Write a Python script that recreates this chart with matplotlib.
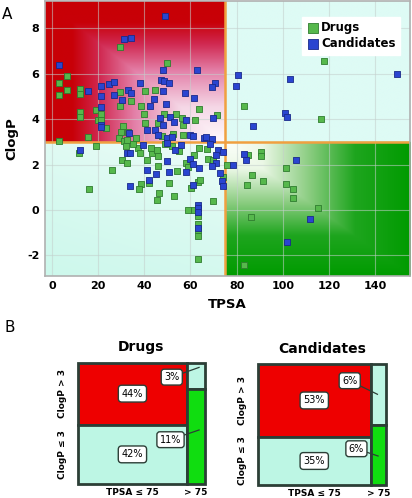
import numpy as np
import matplotlib
matplotlib.use('Agg')
import matplotlib.pyplot as plt
from matplotlib.patches import Rectangle

# ---- data: panel A (TPSA, ClogP) ----
drugs_tpsa = [29.3, 50, 6.4, 3.2, 6.4, 3.2, 12.1, 12.4, 29.5, 40.3, 44.6, 34.2, 29.5, 38.6, 63.7,
              12.1, 12.4, 18.9, 21.2, 20.1, 21.2, 39.9, 48.4, 53.6, 56.3, 62, 40.4, 23.5, 30.8, 56.6,
              30, 33.1, 29, 31.1, 32.6, 15.6, 3.2, 36.4, 47.8, 52.6, 56.6, 71.5, 45.9,
              19.2, 11.8, 30.5, 32.5, 32.1, 37.1, 38, 41.2, 43.2, 46.1, 45.9, 26, 15.9, 38.6, 37.9,
              41.9, 46.4, 45.7, 50.7, 52.7, 54.2, 58.1, 58.8, 58.8, 61.7, 60.1, 61.6, 63.4, 64.3,
              63.3, 63.3, 63.3, 63.3, 63.3, 63.9, 42.9, 45.4, 35.2, 67.6, 69.9, 74.3, 69.8, 49, 52,
              55, 67,
              118, 83.1, 116.7,
              84.7, 90.6, 90.6, 101.4, 86.6, 91.6, 84.4, 101.4, 104.5, 104.5, 115.3, 86.1, 83.1, 76]
drugs_clogp = [7.19, 6.46, 5.9, 5.59, 5.29, 5.07, 5.32, 5.09, 5.21, 5.25, 5.29, 4.82, 4.58, 4.58, 4.46,
               4.3, 4.1, 4.39, 4.24, 3.95, 3.98, 4.23, 4.21, 4.23, 4.05, 3.98, 3.85, 3.63, 3.7, 3.75,
               3.42, 3.45, 3.19, 3.03, 3.1, 3.2, 3.04, 3.16, 3.26, 3.35, 3.31, 4.17, 3.83,
               2.82, 2.53, 2.21, 2.09, 2.81, 2.74, 2.52, 2.18, 2.53, 2.39, 1.92, 1.76, 0.92, 1.16, 0.91,
               1.17, 0.75, 0.43, 1.2, 0.6, 1.73, 2.09, 1.89, 0.02, 0.02, 0.96, 2.4, 1.23, 1.3,
               -0.28, -0.63, -0.86, -1.14, -2.15, 2.74, 2.75, 2.66, 2.91, 2.25, 2.21, 1.46, 0.4, 2.9, 2.8,
               2.6, 2.7,
               6.55, 4.58, 3.99,
               2.4, 2.54, 2.36, 1.83, 1.54, 1.29, 1.1, 1.14, 0.94, 0.51, 0.07, -0.32, -2.4, 1.97]

cand_tpsa = [49, 31.2, 34.1, 3.2, 48.3, 63, 15.7, 21.2, 24.6, 26.9, 38, 47.2, 48.5, 50.8, 48.1,
             32.9, 34.4, 21.2, 26.7, 30.5, 44.3, 57.5, 61.4, 49.3, 42.5, 21.2, 21.1, 21.1, 51.1, 46.8,
             52.8, 58.2, 48.2, 41, 44.8, 33.3, 46.1, 59.7, 65.9, 50, 52, 70.7, 69.5, 69.6, 69.4,
             66.8, 61,
             39.4, 12, 32.5, 33.8, 41.2, 45.2, 49.8, 50.6, 41.9, 33.8, 58.2, 59.8, 61.2, 63.7, 61.2,
             63.3, 63.3, 63.3, 63.3, 53.3, 68.5, 72.1, 71, 74.1, 71, 69.5, 72.8, 73.7, 74.3, 50, 56,
             80.5, 103.3, 149.4, 79.9, 101.1, 101.7, 87.1,
             83.1, 84, 105.6, 78.3, 111.8, 101.7]
cand_clogp = [8.55, 7.53, 7.57, 6.38, 6.16, 6.18, 5.22, 5.47, 5.56, 5.63, 5.61, 5.73, 5.66, 5.59, 5.22,
              5.28, 5.13, 5.03, 5.07, 4.84, 4.89, 5.15, 4.91, 4.67, 4.56, 4.52, 3.76, 3.65, 4.11, 4.05,
              3.86, 3.96, 3.72, 3.53, 3.5, 3.38, 3.32, 3.32, 3.19, 3.18, 3.2, 5.59, 5.4, 4.04, 3.13,
              3.2, 3.25,
              2.88, 2.65, 2.49, 2.5, 1.74, 1.6, 2.14, 1.67, 1.33, 1.04, 1.67, 2.25, 2.03, 1.83, 1.11,
              0.24, 0.07, -0.1, -0.78, 2.62, 2.91, 2.62, 2.44, 2.54, 2.06, 1.92, 1.61, 1.26, 1.05, 2.95, 2.85,
              5.95, 5.78, 6.0, 5.48, 4.27, 4.08, 3.7,
              2.46, 2.22, 2.19, 1.99, -0.41, -1.42]

tpsa_cut = 75
clogp_cut = 3

# ---- data: panel B (percent per quadrant) ----
groups = ['Drugs', 'Candidates']
pct_high_low = [44, 53]    # ClogP > 3, TPSA <= 75
pct_low_low = [42, 35]     # ClogP <= 3, TPSA <= 75
pct_high_high = [3, 6]     # ClogP > 3, TPSA > 75
pct_low_high = [11, 6]     # ClogP <= 3, TPSA > 75

fig = plt.figure(figsize=(4.12, 4.98), dpi=100)

# ---------------- panel A ----------------
xmin, xmax, ymin, ymax = -3, 155, -2.9, 9.2
ax = fig.add_axes([0.109, 0.446, 0.886, 0.552])

nx_, ny_ = 500, 400
gx = np.linspace(xmin, xmax, nx_)
gy = np.linspace(ymax, ymin, ny_)
X, Y = np.meshgrid(gx, gy)
img = np.ones((ny_, nx_, 3))


def ramp(t, stops, cols):
    # piecewise linear colour ramp
    out = np.zeros(t.shape + (3,))
    for c in range(3):
        out[..., c] = np.interp(t, stops, [col[c] for col in cols])
    return out


# upper left: red at the edges, white/pink toward the cut corner
m = (X <= tpsa_cut) & (Y >= clogp_cut)
u = (tpsa_cut - X) / (tpsa_cut - xmin)
v = (Y - clogp_cut) / (ymax - clogp_cut)
t = np.maximum(u, v)
red_cols = [np.array(c) / 255 for c in [(255, 250, 252), (245, 215, 230), (228, 130, 170),
                                        (208, 40, 80), (200, 0, 8), (200, 0, 5)]]
img[m] = ramp(t, [0, 0.25, 0.5, 0.7, 0.85, 1], red_cols)[m]

# lower right: white at the cut corner, green away from it
m = (X > tpsa_cut) & (Y < clogp_cut)
u = (X - tpsa_cut) / (xmax - tpsa_cut)
v = (clogp_cut - Y) / (clogp_cut - ymin)
t = np.maximum(u, v)
grn_cols = [np.array(c) / 255 for c in [(252, 255, 250), (235, 248, 230), (140, 205, 130),
                                        (30, 165, 30), (0, 155, 0)]]
img[m] = ramp(t, [0, 0.2, 0.45, 0.7, 1], grn_cols)[m]

# lower left and upper right: pale mint
m = (X <= tpsa_cut) & (Y < clogp_cut)
t = np.clip((tpsa_cut - X) / 78 * 0.3 + (clogp_cut - Y) / 6 * 0.7, 0, 1) ** 0.5
mint_cols = [np.array(c) / 255 for c in [(248, 254, 252), (205, 248, 236)]]
img[m] = ramp(t, [0, 1], mint_cols)[m]
m = (X > tpsa_cut) & (Y >= clogp_cut)
img[m] = np.array([222, 251, 245]) / 255

ax.imshow(img, extent=(xmin, xmax, ymin, ymax), aspect='auto', zorder=0, interpolation='bilinear')
ax.set_xlim(xmin, xmax)
ax.set_ylim(ymin, ymax)
ax.grid(True, color='#c4cfcc', alpha=0.55, linewidth=0.8)
ax.axvline(tpsa_cut, color='#f0a040', linewidth=1.8, zorder=2)
ax.axhline(clogp_cut, color='#f0a040', linewidth=1.8, zorder=2)

ax.scatter(drugs_tpsa, drugs_clogp, marker='s', s=24, color='#56b84c',
           edgecolor='#2f7d2f', linewidth=0.6, zorder=3, label='Drugs')
ax.scatter(cand_tpsa, cand_clogp, marker='s', s=24, color='#2a45d0',
           edgecolor='#1a2a8a', linewidth=0.6, zorder=3, label='Candidates')

xt = list(range(0, 141, 20))
yt = list(range(-2, 9, 2))
ax.set_xticks(xt, [str(v) for v in xt], fontweight='bold', fontsize=8)
ax.set_yticks(yt, [str(v) for v in yt], fontweight='bold', fontsize=8)
ax.tick_params(length=0, pad=4)
ax.set_xlabel('TPSA', fontsize=9.5, fontweight='bold', labelpad=5)
ax.set_ylabel('ClogP', fontsize=9.5, fontweight='bold', labelpad=6)
for sp in ax.spines.values():
    sp.set_color('#b0b0b0')
    sp.set_linewidth(1.2)

leg = ax.legend(loc='upper right', bbox_to_anchor=(0.99, 0.965), frameon=True, fancybox=False,
                handletextpad=0.2, borderpad=0.4, labelspacing=0.25, handlelength=1.0,
                prop={'weight': 'bold', 'size': 8.5}, markerscale=1.4)
leg.get_frame().set_edgecolor('white')
leg.get_frame().set_alpha(1)

fig.text(0.005, 0.962, 'A', fontsize=11)
fig.text(0.012, 0.333, 'B', fontsize=11)

# ---------------- panel B ----------------
box_pos = [[0.189, 0.028, 0.308, 0.244], [0.625, 0.026, 0.313, 0.243]]
small_lab = [[(0.74, 0.88, 0.955, 0.96), (0.73, 0.365, 0.955, 0.445)],
             [(0.715, 0.862, 0.93, 0.75), (0.767, 0.30, 0.935, 0.24)]]
narrow = ['Liberation Sans Narrow', 'DejaVu Sans']
edge = '#2c3e36'
cyan = '#bdf6e4'

for i, name in enumerate(groups):
    bx = fig.add_axes(box_pos[i])
    bx.set_xlim(0, 1)
    bx.set_ylim(0, 1)
    bx.axis('off')
    left = (pct_high_low[i] + pct_low_low[i]) / 100
    f_left = pct_high_low[i] / (pct_high_low[i] + pct_low_low[i])
    f_right = pct_high_high[i] / (pct_high_high[i] + pct_low_high[i])
    rects = [(0, 1 - f_left, left, f_left, '#ee0000'),
             (0, 0, left, 1 - f_left, cyan),
             (left, 1 - f_right, 1 - left, f_right, cyan),
             (left, 0, 1 - left, 1 - f_right, '#10dd10')]
    for (x0, y0, w, h, col) in rects:
        bx.add_patch(Rectangle((x0, y0), w, h, facecolor=col, edgecolor=edge,
                               linewidth=2, clip_on=False))
    big = [(left / 2, 1 - f_left / 2, pct_high_low[i]), (left / 2, (1 - f_left) / 2, pct_low_low[i])]
    for (x0, y0, p) in big:
        bx.text(x0, y0, f'{p}%', ha='center', va='center', fontsize=7, family=narrow,
                bbox=dict(boxstyle='round,pad=0.35', facecolor='white', edgecolor=edge, linewidth=1))
    for (x0, y0, x1, y1), p in zip(small_lab[i], [pct_high_high[i], pct_low_high[i]]):
        bx.plot([x0, x1], [y0, y1], color=edge, linewidth=0.9, clip_on=False)
        bx.text(x0, y0, f'{p}%', ha='center', va='center', fontsize=7, family=narrow,
                bbox=dict(boxstyle='round,pad=0.3', facecolor='white', edgecolor=edge, linewidth=1))
    bx.text(0.5, 1.07, name, ha='center', va='bottom', fontsize=10, fontweight='bold')
    bx.text(-0.12, 1 - f_left / 2, 'ClogP > 3', rotation=90, ha='center', va='center',
            fontsize=6.5, fontweight='bold', family=narrow)
    bx.text(-0.12, (1 - f_left) / 2, 'ClogP ≤ 3', rotation=90, ha='center', va='center',
            fontsize=6.5, fontweight='bold', family=narrow)
    bx.text(left / 2, -0.07, 'TPSA ≤ 75', ha='center', va='center',
            fontsize=6.5, fontweight='bold', family=narrow)
    bx.text(left + (1 - left) / 2, -0.07, '> 75', ha='center', va='center',
            fontsize=6.5, fontweight='bold', family=narrow)

fig.savefig('out.png', dpi=100)
